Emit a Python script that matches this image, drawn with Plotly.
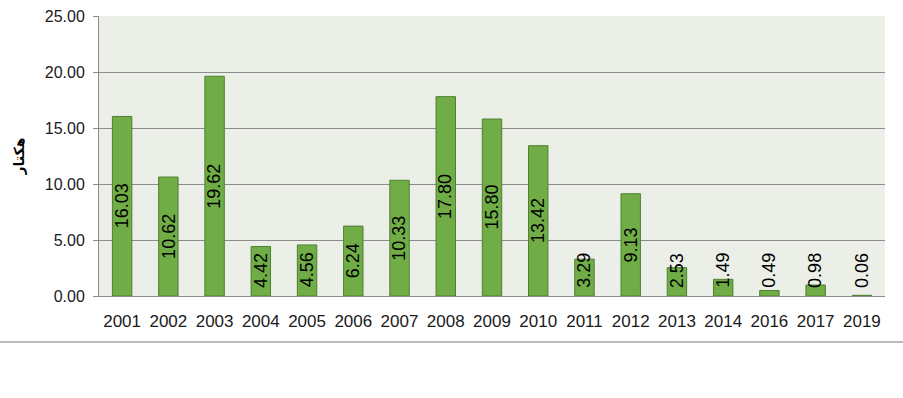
import plotly.graph_objects as go

years = ["2001", "2002", "2003", "2004", "2005", "2006", "2007", "2008", "2009",
         "2010", "2011", "2012", "2013", "2014", "2016", "2017", "2019"]
values = [16.03, 10.62, 19.62, 4.42, 4.56, 6.24, 10.33, 17.80, 15.80,
          13.42, 3.29, 9.13, 2.53, 1.49, 0.49, 0.98, 0.06]
y_ticks = [0, 5, 10, 15, 20, 25]
y_title = "هکتار"

fig = go.Figure()
fig.add_trace(go.Bar(
    x=years, y=values,
    marker=dict(color="#70AD47", line=dict(color="#4F7F30", width=1)),
    hoverinfo="x+y",
))

annotations = []
for i, v in enumerate(values):
    annotations.append(dict(
        x=i, y=max(v / 2, 2.3), xref="x", yref="y",
        text=f"{v:.2f}", showarrow=False, textangle=-90,
        font=dict(family="Liberation Sans, Arial, sans-serif", size=18, color="#000000"),
        xanchor="center", yanchor="middle",
    ))

L, R, T, B = 99, 18, 16, 102
PW, PH = 903 - L - R, 398 - T - B

fig.update_layout(
    width=903, height=398,
    margin=dict(l=L, r=R, t=T, b=B, autoexpand=False),
    paper_bgcolor="white",
    plot_bgcolor="#EBEFE8",
    showlegend=False,
    bargap=0.58,
    annotations=annotations,
    font=dict(family="Liberation Sans, Arial, sans-serif", color="#1a1a1a"),
    shapes=[dict(type="line", xref="paper", yref="paper",
                 x0=-L / PW, x1=1 + R / PW, y0=-46 / PH, y1=-46 / PH,
                 line=dict(color="#A6A6A6", width=1.5))],
)
fig.update_xaxes(
    type="category", range=[-0.5, len(years) - 0.5],
    showgrid=False, showline=True, linecolor="#8C8C8C", linewidth=1,
    ticks="", tickfont=dict(size=17, color="#1a1a1a"), ticklabelstandoff=10,
)
fig.update_yaxes(
    range=[0, 25], tickvals=y_ticks, tickformat=".2f",
    showgrid=True, gridcolor="#8C8C8C", gridwidth=1,
    showline=True, linecolor="#8C8C8C", linewidth=1,
    ticks="outside", ticklen=5, tickcolor="#8C8C8C",
    tickfont=dict(size=16, color="#1a1a1a"), zeroline=False, ticklabelstandoff=5,
    title=dict(text=y_title, font=dict(family="DejaVu Sans", size=14, color="#000000",
                                       weight="bold"), standoff=16),
)

fig.write_html("out.html", config={"displayModeBar": False},
               post_script="document.body.style.margin='0';document.body.style.overflow='hidden';")
